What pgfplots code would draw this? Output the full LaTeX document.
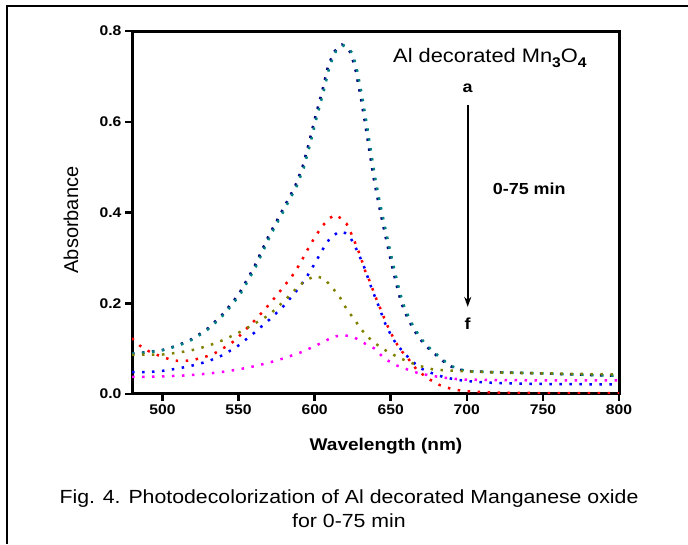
\documentclass[border=0pt]{standalone}
\usepackage{fontspec}
\setmainfont{Liberation Sans}[FakeStretch=1.12]
\newfontfamily\plainsans{Liberation Sans}
\usepackage{pgfplots}
\pgfplotsset{compat=1.18}
\usetikzlibrary{arrows.meta}

\definecolor{cnavy}{RGB}{0,0,128}
\definecolor{cteal}{RGB}{0,128,128}
\definecolor{cred}{RGB}{255,0,0}
\definecolor{cblue}{RGB}{0,0,255}
\definecolor{colive}{RGB}{128,128,0}
\definecolor{cmag}{RGB}{255,0,255}

% curve a (0 min)
\pgfplotstableread{
x y
480 0.090
490 0.092
500 0.097
510 0.107
520 0.122
530 0.145
540 0.177
550 0.219
560 0.278
570 0.350
576 0.387
582 0.425
587 0.456
592 0.500
596 0.550
600 0.605
605 0.668
609 0.725
613 0.755
618 0.770
621 0.765
624 0.750
627 0.712
630 0.660
633 0.600
636 0.535
639 0.472
642 0.420
645 0.372
648 0.325
651 0.280
654 0.238
657 0.200
661 0.168
665 0.142
670 0.118
675 0.100
680 0.085
685 0.071
690 0.060
695 0.054
700 0.050
720 0.048
744 0.046
770 0.043
800 0.040
}\curvea

% curve b
\pgfplotstableread{
x y
480 0.089
491 0.092
501 0.097
511 0.107
521 0.122
531 0.145
541 0.177
551 0.219
561 0.278
571 0.350
577 0.387
583 0.425
588 0.456
593 0.500
597 0.550
601 0.605
606 0.668
610 0.725
614 0.755
619 0.768
622 0.763
625 0.750
628 0.712
631 0.660
634 0.600
637 0.535
640 0.472
643 0.420
646 0.372
649 0.325
652 0.280
655 0.238
658 0.200
662 0.168
666 0.142
671 0.118
676 0.100
681 0.085
686 0.071
691 0.060
696 0.054
701 0.050
721 0.048
745 0.046
771 0.043
800 0.040
}\curveb

% curve c
\pgfplotstableread{
x y
480 0.123
485 0.107
490 0.096
495 0.088
500 0.082
505 0.076
510 0.073
515 0.073
520 0.075
525 0.079
530 0.084
535 0.091
540 0.101
545 0.111
550 0.126
555 0.143
560 0.160
565 0.178
570 0.197
575 0.217
580 0.238
585 0.259
590 0.285
595 0.316
600 0.345
605 0.370
610 0.388
614 0.395
618 0.385
621 0.375
624 0.354
627 0.330
630 0.305
633 0.273
636 0.250
640 0.214
643 0.190
646 0.165
649 0.142
652 0.122
656 0.099
661 0.080
667 0.054
674 0.035
682 0.020
690 0.011
697 0.007
705 0.005
720 0.003
750 0.002
800 0.002
}\curvec

% curve d
\pgfplotstableread{
x y
480 0.048
490 0.048
500 0.051
510 0.056
520 0.063
530 0.072
540 0.086
550 0.107
560 0.134
570 0.163
580 0.195
590 0.235
595 0.259
600 0.287
605 0.317
610 0.343
616 0.358
620 0.355
623 0.347
626 0.330
630 0.300
633 0.276
636 0.246
640 0.211
643 0.186
646 0.158
650 0.131
654 0.108
658 0.094
663 0.075
670 0.056
677 0.046
685 0.037
694 0.031
705 0.027
720 0.024
750 0.022
800 0.021
}\curved

% curve e
\pgfplotstableread{
x y
480 0.086
490 0.087
500 0.087
510 0.091
520 0.097
530 0.106
540 0.119
550 0.135
560 0.154
570 0.174
580 0.205
586 0.226
593 0.248
600 0.260
606 0.255
612 0.233
617 0.211
621 0.187
626 0.165
631 0.141
637 0.119
644 0.101
651 0.088
656 0.079
664 0.068
671 0.060
678 0.054
692 0.051
722 0.047
760 0.045
800 0.043
}\curvee

% curve f (75 min)
\pgfplotstableread{
x y
480 0.038
490 0.038
500 0.039
510 0.040
520 0.042
530 0.045
540 0.049
550 0.054
560 0.061
570 0.069
580 0.079
586 0.086
592 0.093
599 0.104
606 0.115
612 0.126
619 0.130
626 0.125
632 0.113
639 0.101
646 0.078
653 0.064
661 0.054
668 0.046
677 0.040
685 0.036
696 0.032
713 0.031
750 0.030
800 0.030
}\curvef

\begin{document}
\begin{tikzpicture}[x=1pt,y=1pt]
\useasboundingbox (0,0) rectangle (688,544);
% frame of the figure
\draw[line width=2pt] (6.5,0) -- (6.5,537.5) -- (688,537.5);

\begin{axis}[
    at={(132pt,150pt)}, anchor=south west,
    scale only axis,
    width=487pt, height=363pt,
    xmin=480, xmax=800,
    ymin=0, ymax=0.8,
    xtick={500,550,...,800},
    ytick={0,0.2,0.4,0.6,0.8},
    axis line style={line width=3pt},
    tick align=outside,
    tick pos=left,
    major tick length=7pt,
    tick style={line width=2.5pt, black},
    /pgf/number format/assume math mode=true,
    ticklabel style={font=\fontsize{14}{16}\selectfont\bfseries},
    yticklabel style={/pgf/number format/.cd, fixed, fixed zerofill, precision=1},
    clip mode=individual,
    every axis plot/.append style={line width=2.5pt, dash pattern=on 2.5pt off 7.5pt},
]
\addplot[cnavy] table {\curvea};
\addplot[cteal] table {\curveb};
\addplot[cred] table {\curvec};
\addplot[cblue] table {\curved};
\addplot[colive] table {\curvee};
\addplot[cmag] table {\curvef};

\node[anchor=base west, font=\fontsize{19.5}{20}\selectfont, inner sep=0pt]
  at (axis cs:651.5,0.731) {Al decorated Mn\raisebox{-5pt}{\bfseries\fontsize{14}{14}\selectfont 3}O\raisebox{-5pt}{\bfseries\fontsize{14}{14}\selectfont 4}};
\node[font=\fontsize{16}{16}\selectfont\bfseries] at (axis cs:700.6,0.674) {a};
\draw[line width=2pt, -{Stealth[length=10pt, width=7pt]}] (axis cs:700.6,0.637) -- (axis cs:700.6,0.192);
\node[font=\fontsize{16}{16}\selectfont\bfseries] at (axis cs:700.6,0.156) {f};
\node[font=\fontsize{16}{16}\selectfont\bfseries] at (axis cs:741,0.453) {0-75 min};
\end{axis}

\node[anchor=base, font=\fontsize{17}{17}\selectfont\bfseries] at (386,94) {Wavelength (nm)};
\node[rotate=90, font=\plainsans\fontsize{20}{20}\selectfont] at (71,324) {Absorbance};

\node[anchor=base, font=\fontsize{19}{19}\selectfont] at (349,41) {Fig. 4. Photodecolorization of Al decorated Manganese oxide};
\node[anchor=base, font=\fontsize{19}{19}\selectfont] at (349,17) {for 0-75 min};
\end{tikzpicture}
\end{document}
